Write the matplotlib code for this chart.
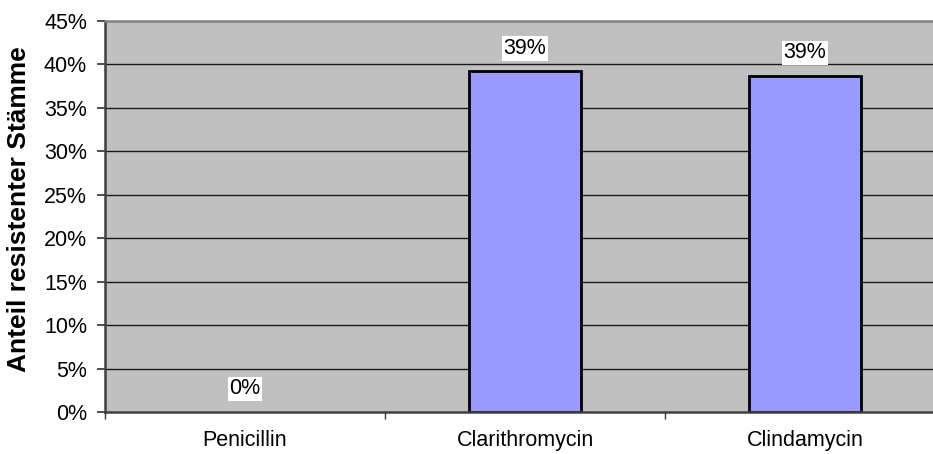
import numpy as np
import matplotlib.pyplot as plt
from matplotlib.ticker import FuncFormatter

plt.rcParams['font.family'] = ['Liberation Sans', 'DejaVu Sans']

antibiotics = ['Penicillin', 'Clarithromycin', 'Clindamycin']
resistant_pct = [0.0, 39.2, 38.7]
label_text = ['0%', '39%', '39%']
yticks = [0, 5, 10, 15, 20, 25, 30, 35, 40, 45]

fig = plt.figure(figsize=(9.33, 4.54), dpi=100)
# plot area runs slightly past the right edge of the figure
ax = fig.add_axes([105 / 933, 42 / 454, 840 / 933, 391 / 454])
ax.set_facecolor('#c0c0c0')

x = np.arange(len(antibiotics))
edge_w = [2 if v > 0 else 0 for v in resistant_pct]
ax.bar(x, resistant_pct, width=0.4, color='#9999ff', edgecolor='black',
       linewidth=edge_w, zorder=3)

for xi, v, t in zip(x, resistant_pct, label_text):
    ax.annotate(t, (xi, v), xytext=(0, 23), textcoords='offset pixels',
                ha='center', va='center', fontsize=15.5, zorder=5,
                bbox=dict(boxstyle='square,pad=0.08', fc='white', ec='none'))

ax.set_xlim(-0.5, 2.5)
ax.set_ylim(0, 45)
ax.set_yticks(yticks)
ax.yaxis.set_major_formatter(FuncFormatter(lambda v, p: f'{v:.0f}%'))
for yv in yticks[1:-1]:
    ax.axhline(yv, color='#1a1a1a', linewidth=1, zorder=1)

ax.set_xticks(x)
ax.set_xticklabels(antibiotics)
ax.set_xticks([-0.5, 0.5, 1.5, 2.5], minor=True)
ax.tick_params(axis='x', which='major', length=0, pad=13, labelsize=15.5)
ax.tick_params(axis='x', which='minor', length=5, width=1, color='#333333')
ax.tick_params(axis='y', length=6, width=1.3, color='#404040', labelsize=15.5, pad=7)

ax.spines['top'].set_color('#808080')
ax.spines['top'].set_linewidth(1.8)
ax.spines['right'].set_visible(False)
ax.spines['left'].set_color('#404040')
ax.spines['left'].set_linewidth(1.8)
ax.spines['bottom'].set_color('#404040')
ax.spines['bottom'].set_linewidth(1.8)
for sp in ax.spines.values():
    sp.set_zorder(4)

ax.set_ylabel('Anteil resistenter Stämme', fontsize=19, fontweight='bold', va='center')
ax.yaxis.set_label_coords(-0.102, 0.519)

fig.savefig('out.png', dpi=100)
